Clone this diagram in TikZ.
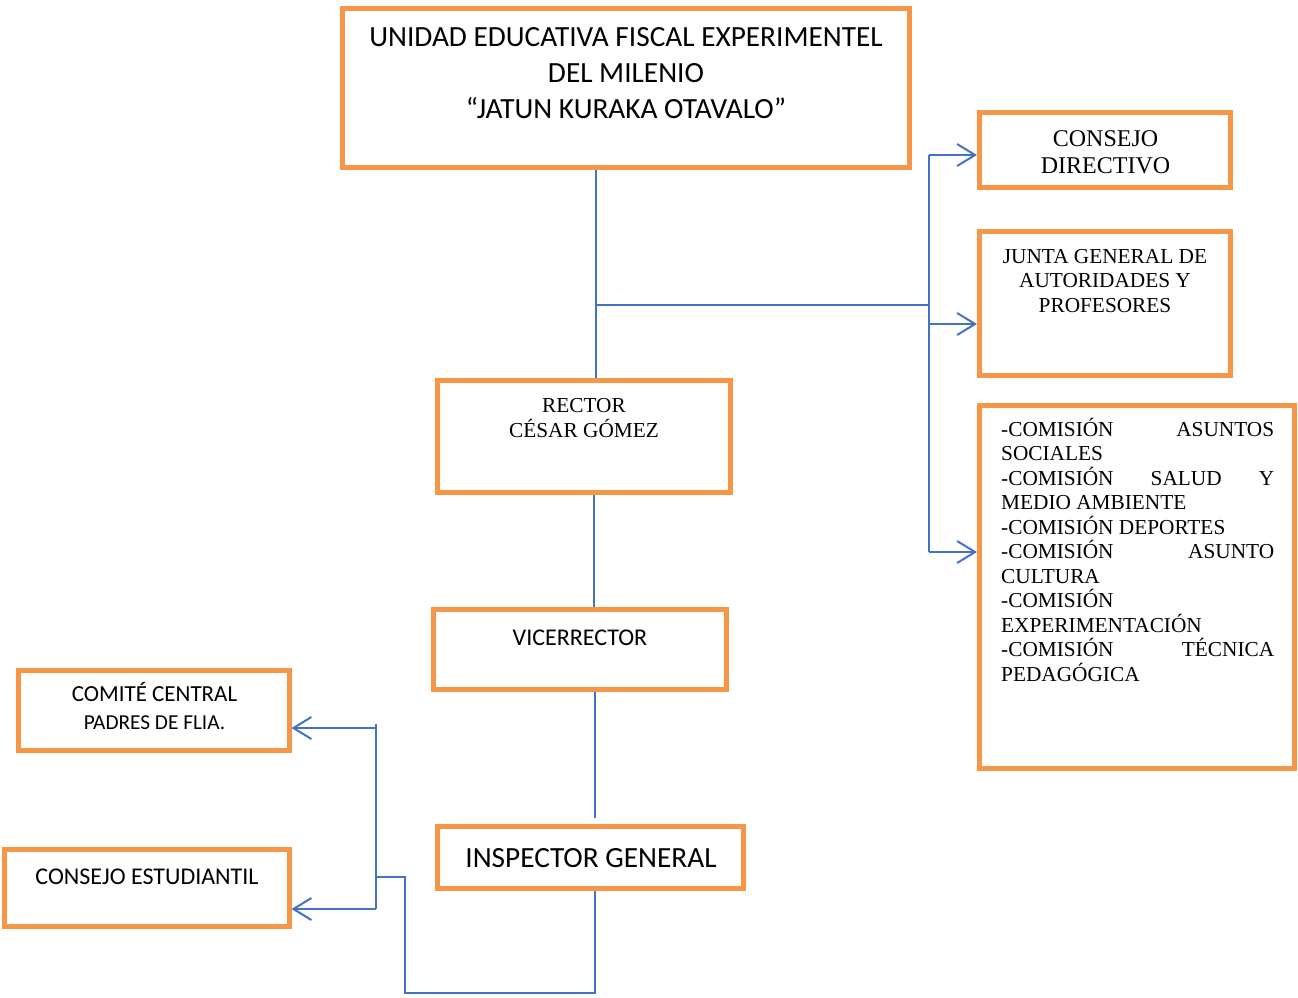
\documentclass[tikz,border=0pt]{standalone}
\usepackage{fontspec}
\setmainfont{Liberation Serif}
\newfontfamily\calibri{Carlito}
\usepackage{xcolor}
\definecolor{f79646}{HTML}{F79646}
\definecolor{4472c4}{HTML}{4472C4}
\usepackage{tikz}
\usetikzlibrary{arrows.meta}
\newcommand{\linetop}{\rule{0pt}{1em}}

\begin{document}
\begin{tikzpicture}[x=1pt, y=-1pt,
        box/.style={draw=f79646, line width=5pt, inner sep=0pt},
        link/.style={draw=4472c4, line width=2pt},
        arr/.style={link, -{Straight Barb[length=18pt,width=22pt]}},
        txt/.style={inner sep=0pt, anchor=north, align=center}]
            \useasboundingbox (0,0) rectangle (1298,997);

            % cajas
            \node (title) at (625.5,88) [box, minimum width=567, minimum height=159] {};
            \node (cdir) at (1105,150) [box, minimum width=251, minimum height=75] {};
            \node (junta) at (1105,303.5) [box, minimum width=251, minimum height=144] {};
            \node (comis) at (1137,587) [box, minimum width=315, minimum height=363] {};
            \node (rector) at (584,436.5) [box, minimum width=293, minimum height=112] {};
            \node (vice) at (580,649.5) [box, minimum width=293, minimum height=80] {};
            \node (insp) at (590.5,857.5) [box, minimum width=306, minimum height=62] {};
            \node (padres) at (153.5,710.5) [box, minimum width=271, minimum height=80] {};
            \node (estud) at (146.5,888) [box, minimum width=285, minimum height=77] {};

            % textos
            \node (titletxt) at (626,17.2) [txt, font={\calibri\fontsize{29.3}{35.8}\selectfont}]
                {\linetop UNIDAD EDUCATIVA FISCAL EXPERIMENTEL\\DEL MILENIO\\“JATUN KURAKA OTAVALO”};
            \node (cdirtxt) at (1105.5,122) [txt, font={\fontsize{24}{27}\selectfont}]
                {\linetop CONSEJO\\DIRECTIVO};
            \node (juntatxt) at (1105,241.7) [txt, font={\fontsize{21.3}{24.5}\selectfont}]
                {\linetop JUNTA GENERAL DE\\AUTORIDADES Y\\PROFESORES};
            \node (comistxt) at (1001,414.7) [txt, anchor=north west, align=justify, text width=273,
                font={\fontsize{21.3}{24.5}\selectfont}]
                {\linetop-COMISIÓN\hfill ASUNTOS\\SOCIALES\\-COMISIÓN\hfill SALUD\hfill Y\\MEDIO AMBIENTE\\
                -COMISIÓN DEPORTES\\-COMISIÓN\hfill ASUNTO\\CULTURA\\-COMISIÓN\\EXPERIMENTACIÓN\\
                -COMISIÓN\hfill TÉCNICA\\PEDAGÓGICA};
            \node (rectortxt) at (584,390.7) [txt, font={\fontsize{21.3}{25}\selectfont}]
                {\linetop RECTOR\\CÉSAR GÓMEZ};
            \node (vicetxt) at (580,621) [txt, font={\calibri\fontsize{24}{29}\selectfont}]
                {\linetop VICERRECTOR};
            \node (insptxt) at (591,838.2) [txt, font={\calibri\fontsize{29.3}{35.8}\selectfont}]
                {\linetop INSPECTOR GENERAL};
            \node (padrestxt) at (154.5,679.7) [txt, font={\calibri\fontsize{21.3}{28}\selectfont}]
                {\linetop{\fontsize{23}{28}\selectfont COMITÉ CENTRAL}\\PADRES DE FLIA.};
            \node (estudtxt) at (147,860) [txt, font={\calibri\fontsize{24}{29}\selectfont}]
                {\linetop CONSEJO ESTUDIANTIL};

            % puntos de las lineas
            \coordinate (trunk) at (596,305);
            \coordinate (bus) at (929,305);
            \coordinate (b1) at (929,155);
            \coordinate (b2) at (929,324);
            \coordinate (b3) at (929,552);
            \coordinate (mid) at (593.5,550);
            \coordinate (gap) at (595,818);
            \coordinate (low) at (595,993);
            \coordinate (jog) at (405,877);
            \coordinate (lbus) at (376,877);
            \coordinate (l1) at (376,728);
            \coordinate (l2) at (376,909);

            \draw[link] (title.south -| trunk) -- (rector.north -| trunk);
            \draw[link] (trunk) -- (bus);
            \draw[link] (b1) -- (b3);
            \draw[arr] (b1) -- (b1 -| cdir.west);
            \draw[arr] (b2) -- (b2 -| junta.west);
            \draw[arr] (b3) -- (b3 -| comis.west);

            \draw[link] (rector.south -| mid) -- (vice.north -| mid);
            \draw[link] (vice.south -| gap) -- (gap);
            \draw[link] (insp.south -| low) -- (low) -| (jog) -- (lbus);
            \draw[link] ([yshift=4pt]l1) -- (l2);
            \draw[arr] (l1) -- (l1 -| padres.east);
            \draw[arr] (l2) -- (l2 -| estud.east);
        \end{tikzpicture}
\end{document}
